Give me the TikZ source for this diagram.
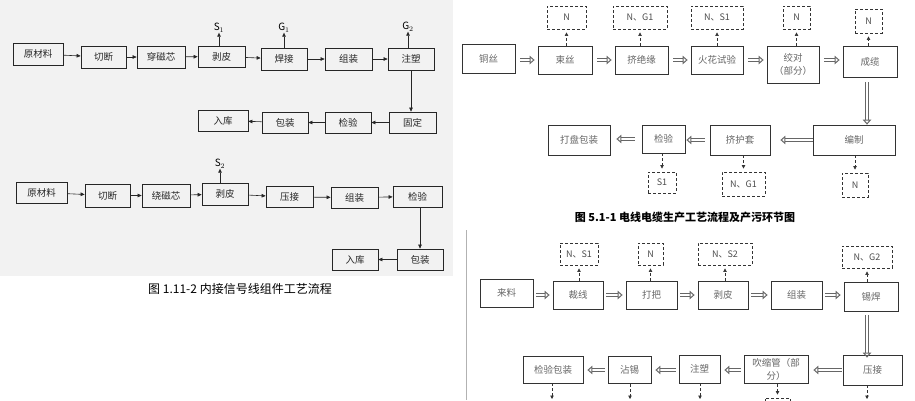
\documentclass[tikz,border=0pt]{standalone}
\usepackage{fontspec}
\setmainfont{Noto Sans CJK SC}
\usetikzlibrary{arrows.meta}

\begin{document}
\begin{tikzpicture}[x=1pt,y=-1pt,
  box/.style={draw=black!85, line width=0.7pt, inner sep=0pt, font=\fontsize{9.5}{11}\selectfont, text=black!85},
  gbox/.style={draw=black!80, line width=0.8pt, inner sep=0pt, font=\fontsize{9.5}{13}\selectfont, text=black!60, align=center},
  dbox/.style={draw=black!80, densely dashed, line width=0.9pt, inner sep=0pt, font=\fontsize{9}{11}\selectfont, text=black!70},
  sz/.style 2 args={minimum width=#1, minimum height=#2},
  flow/.style={draw=black!85, line width=0.6pt, -{Triangle[length=4pt,width=3.5pt]}},
  emit/.style={draw=black!80, line width=0.7pt, densely dashed, -{Triangle[length=3.5pt,width=3.5pt]}},
  hollow/.style={draw=black!60, double=white, double distance=2.4pt, line width=1pt,
    -{Triangle[open, length=5pt, width=8.5pt, line width=1pt]}},
  lab/.style={inner sep=0pt, font=\fontsize{10}{10}\selectfont}]
\useasboundingbox (0,0) rectangle (915,400);
\fill[black!5] (0,0) rectangle (453,276);
\draw[black!30, line width=0.8pt] (466,230) -- (466,400);

% 1.11-2 upper row
\node[box, sz={50}{22}] (a1) at (38,54) {原材料};
\node[box, sz={45}{22}] (a2) at (103.5,57) {切断};
\node[box, sz={48}{22}] (a3) at (161,57) {穿磁芯};
\node[box, sz={47}{21}] (a4) at (221.5,56.5) {剥皮};
\node[box, sz={46}{22}] (a5) at (284,59) {焊接};
\node[box, sz={47}{22}] (a6) at (348.5,59) {组装};
\node[box, sz={46}{22}] (a7) at (411,59) {注塑};
\node[box, sz={47}{21}] (a8) at (412.5,122.5) {固定};
\node[box, sz={46}{21}] (a9) at (348,122.5) {检验};
\node[box, sz={46}{21}] (a10) at (285,122.5) {包装};
\node[box, sz={50}{21}] (a11) at (223,120.5) {入库};
\foreach \p/\q in {a1/a2,a2/a3,a3/a4,a4/a5,a5/a6,a6/a7,a8/a9,a9/a10,a10/a11}
  \draw[flow] (\p) -- (\q);
\draw[flow] (a7.south) -- (a7.south |- a8.north);
\node[lab] (s1) at (219,28) {$\mathrm{S}_1$};
\node[lab] (g1) at (284,28) {$\mathrm{G}_1$};
\node[lab] (g2) at (408,27) {$\mathrm{G}_2$};
\draw[flow] (a4.north -| s1) -- (s1.south);
\draw[flow] (a5.north -| g1) -- (g1.south);
\draw[flow] (a7.north -| g2) -- (g2.south);

% 1.11-2 lower row
\node[box, sz={51}{21}] (b1) at (41.5,192.5) {原材料};
\node[box, sz={45}{23}] (b2) at (107.5,195.5) {切断};
\node[box, sz={48}{23}] (b3) at (166,195.5) {绕磁芯};
\node[box, sz={46}{22}] (b4) at (225,194) {剥皮};
\node[box, sz={47}{21}] (b5) at (289.5,197) {压接};
\node[box, sz={47}{21}] (b6) at (354.5,197.5) {组装};
\node[box, sz={49}{21}] (b7) at (417.5,196.5) {检验};
\node[box, sz={46}{21}] (b8) at (420,259.5) {包装};
\node[box, sz={46}{21}] (b9) at (355,259.5) {入库};
\foreach \p/\q in {b1/b2,b2/b3,b3/b4,b4/b5,b5/b6,b6/b7,b8/b9}
  \draw[flow] (\p) -- (\q);
\draw[flow] (b8.north |- b7.south) -- (b8.north);
\node[lab] (s2) at (220,164) {$\mathrm{S}_2$};
\draw[flow] (b4.north -| s2) -- (s2.south);
\node[font=\fontsize{12}{12}\selectfont] (capA) at (240,289) {图 1.11-2 内接信号线组件工艺流程};

% 5.1-1
\node[gbox, sz={53}{29}] (c1) at (488.5,58.5) {铜丝};
\node[gbox, sz={54}{28}] (c2) at (565,60) {束丝};
\node[gbox, sz={53}{28}] (c3) at (641.5,60) {挤绝缘};
\node[gbox, sz={52}{28}] (c4) at (717,60) {火花试验};
\node[gbox, sz={52}{37}] (c5) at (793,64.5) {绞对\\（部分）};
\node[gbox, sz={54}{31}] (c6) at (870,61.5) {成缆};
\node[gbox, sz={82}{30}] (c7) at (854,140) {编制};
\node[gbox, sz={60}{30}] (c8) at (740,140) {挤护套};
\node[gbox, sz={43}{28}] (c9) at (663.5,139) {检验};
\node[gbox, sz={62}{30}] (c10) at (579,140) {打盘包装};
\node[dbox, sz={39}{23}] (n2) at (566.5,17.5) {N};
\node[dbox, sz={54}{23}] (n3) at (640,17.5) {N、G1};
\node[dbox, sz={52}{23}] (n4) at (717,17.5) {N、S1};
\node[dbox, sz={27}{23}] (n5) at (796.5,17.5) {N};
\node[dbox, sz={27}{24}] (n6) at (868.5,21) {N};
\node[dbox, sz={28}{21}] (n9) at (662,182.5) {S1};
\node[dbox, sz={43}{24}] (n8) at (743.5,184) {N、G1};
\node[dbox, sz={26}{24}] (n7) at (855,185) {N};
\foreach \p/\q in {c2/n2,c3/n3,c4/n4,c5/n5,c6/n6}
  \draw[emit, shorten >=3pt] (\p.north -| \q) -- (\q.south);
\foreach \p/\q in {c9/n9,c8/n8,c7/n7}
  \draw[emit, shorten >=3pt] (\p.south -| \q) -- (\q.north);
\foreach \p/\q in {c1/c2,c2/c3,c3/c4,c4/c5,c5/c6}
  \draw[hollow, shorten <=5pt, shorten >=3pt] (\p.east |- c2.east) -- (\q.west |- c2.east);
\draw[hollow, shorten <=5pt] (c6.south -| 867,0) -- (c7.north -| 867,0);
\draw[hollow, shorten >=10pt] (c7.west) -- (c8.east);
\draw[hollow, shorten <=5pt, shorten >=1pt] (c8.west) -- (c9.east |- c8.west);
\draw[hollow, shorten <=7pt, shorten >=6pt] (c9.west) -- (c10.east |- c9.west);
\node[font=\bfseries\fontsize{11}{12}\selectfont] (capC) at (685,217) {图 5.1-1 电线电缆生产工艺流程及产污环节图};

% lower right
\node[gbox, sz={53}{28}] (e1) at (506.5,293) {来料};
\node[gbox, sz={50}{28}] (e2) at (578,295) {裁线};
\node[gbox, sz={51}{28}] (e3) at (651.5,295) {打把};
\node[gbox, sz={50}{28}] (e4) at (723,295) {剥皮};
\node[gbox, sz={51}{28}] (e5) at (796.5,295) {组装};
\node[gbox, sz={54}{29}] (e6) at (871,296.5) {锡焊};
\node[gbox, sz={59}{30}] (e7) at (872.5,370) {压接};
\node[gbox, sz={64}{28}, anchor=north, inner sep=2pt] (e8) at (776,355) {吹缩管（部\\分）};
\node[gbox, sz={41}{28}] (e9) at (699.5,369) {注塑};
\node[gbox, sz={43}{27}] (e10) at (629.5,370) {沾锡};
\node[gbox, sz={60}{27}] (e11) at (553,369.5) {检验包装};
\node[dbox, sz={38}{22}] (m2) at (579,254) {N、S1};
\node[dbox, sz={25}{22}] (m3) at (650.5,254) {N};
\node[dbox, sz={54}{22}] (m4) at (725,254) {N、S2};
\node[dbox, sz={50}{22}] (m6) at (867,257) {N、G2};
\node[dbox, sz={25}{24}] (m8) at (777.5,410) {};
\foreach \p/\q in {e2/m2,e3/m3,e4/m4,e6/m6}
  \draw[emit, shorten >=3pt] (\p.north -| \q) -- (\q.south);
\foreach \p/\q in {e1/e2,e2/e3,e3/e4,e4/e5,e5/e6}
  \draw[hollow, shorten <=3pt, shorten >=3pt] (\p.east |- e2.east) -- (\q.west |- e2.east);
\draw[hollow, shorten <=4pt, shorten >=-3pt] (e6.south -| 867,0) -- (e7.north -| 867,0);
\draw[hollow, shorten <=1pt, shorten >=5pt] (e7.west) -- (e8.east |- e7.west);
\foreach \p/\q in {e8/e9,e9/e10,e10/e11}
  \draw[hollow, shorten <=3pt, shorten >=4pt] (\p.west |- e10.west) -- (\q.east |- e10.west);
\foreach \p/\x in {e11/552,e10/630,e9/700,e7/867}
  \draw[emit] (\p.south -| \x,0) -- (\x,399) coordinate (o\p);
\draw[emit, shorten >=3pt] (e8.south -| m8) -- (m8.north);
\end{tikzpicture}
\end{document}
